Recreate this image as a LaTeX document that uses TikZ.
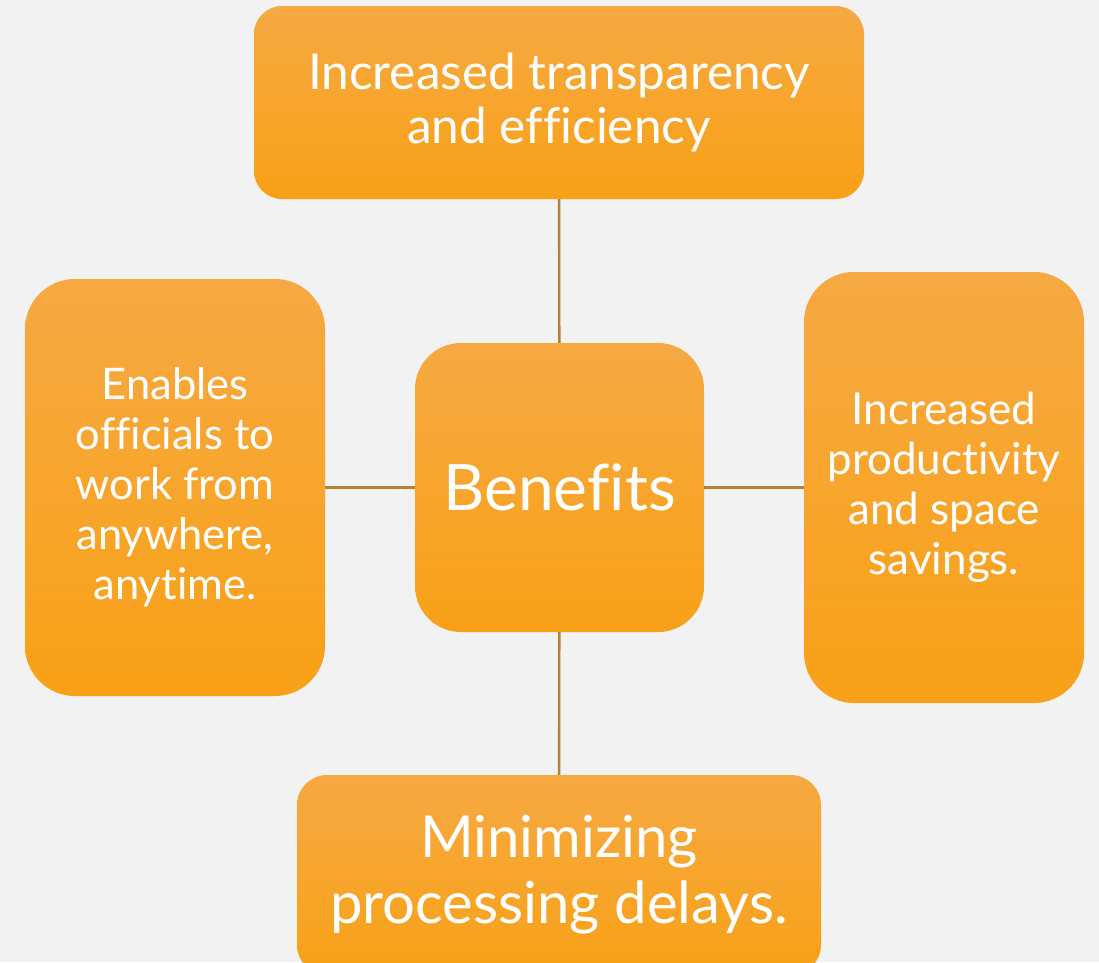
\documentclass[tikz,border=0pt]{standalone}
\usepackage{fontspec}
\setmainfont{Lato}[Ligatures=NoCommon]
\definecolor{pagegray}{HTML}{F2F2F2}
\definecolor{boxtop}{HTML}{F6A942}
\definecolor{boxbottom}{HTML}{F8A117}
\definecolor{linkbrown}{HTML}{B8812E}
\tikzset{
    benefitbox/.style={rounded corners=#1, top color=boxtop, bottom color=boxbottom,
        draw=none, text=white, align=center, inner sep=0pt},
    benefitbox/.default=30pt,
    link/.style={draw=linkbrown, line width=2.4pt}
}
\begin{document}
\begin{tikzpicture}[x=1pt, y=-1pt]
    \fill[pagegray] (0, 0) rectangle (1099, 962);
    \useasboundingbox (0, 0) rectangle (1099, 962);
    \clip (0, 0) rectangle (1099, 962);

    \node[benefitbox=28pt, minimum width=610pt, minimum height=193pt,
        font=\fontsize{49.5}{54}\selectfont] (transp) at (559, 102.5)
        {Increased transparency\\and efficiency};
    \node[benefitbox=46pt, minimum width=289pt, minimum height=289pt,
        font=\fontsize{64}{76}\selectfont] (benefits) at (559.5, 487.5) {Benefits};
    \node[benefitbox=50pt, minimum width=300pt, minimum height=417pt,
        font=\fontsize{43.5}{50}\selectfont] (anywhere) at (175, 487.5)
        {Enables\\officials to\\work from\\anywhere,\\anytime.};
    \node[benefitbox=50pt, minimum width=280pt, minimum height=431pt,
        font=\fontsize{44}{50}\selectfont] (product) at (944, 487.5)
        {Increased\\productivity\\and space\\savings.};
    \node[benefitbox=30pt, minimum width=524pt, minimum height=200pt,
        font=\fontsize{58}{66}\selectfont] (delays) at (559, 875)
        {Minimizing\\processing delays.};

    \draw[link] (transp) -- (benefits);
    \draw[link] (benefits) -- (delays);
    \draw[link] (anywhere) -- (benefits);
    \draw[link] (benefits) -- (product);
\end{tikzpicture}
\end{document}
